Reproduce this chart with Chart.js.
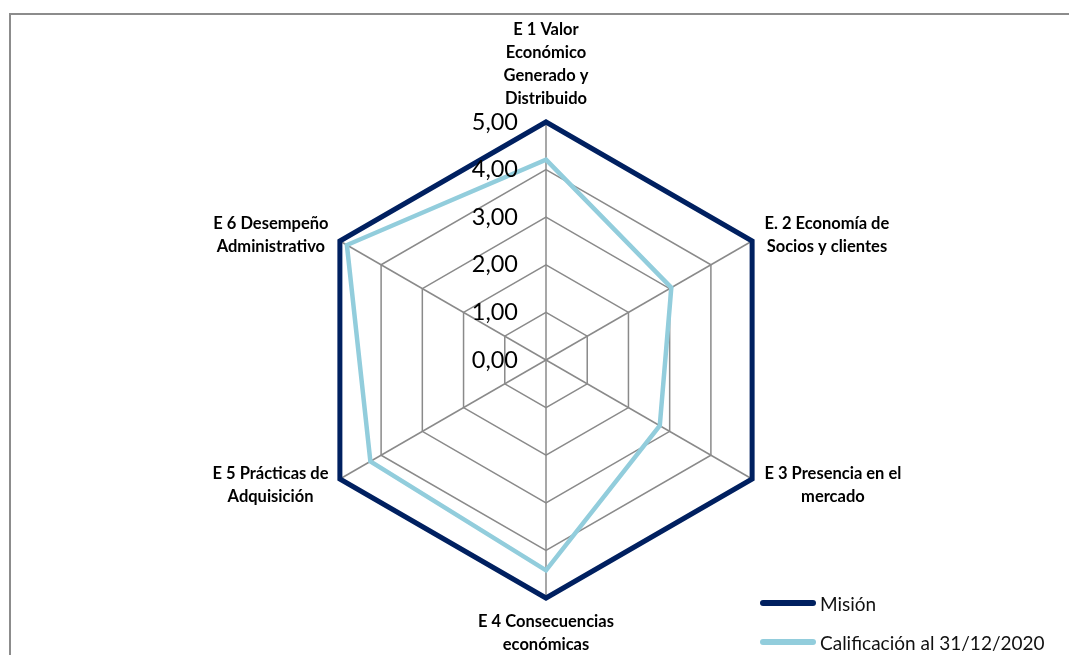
<!DOCTYPE html>
<html>
<head>
<meta charset="utf-8">
<script src="https://cdn.jsdelivr.net/npm/chart.js@4.4.0/dist/chart.umd.min.js"></script>
<style>
  html, body { margin: 0; padding: 0; background: #fff; }
  #wrap { position: relative; width: 1069px; height: 655px; overflow: hidden; }
  #frame { position: absolute; left: 9px; top: 13px; width: 1100px; height: 700px;
           border-left: 2px solid #8c8c8c; border-top: 2px solid #8c8c8c; }
  #radar { position: absolute; left: 0; top: 0; }
  #legend { position: absolute; left: 760px; top: 584px; font-family: Lato, sans-serif;
            font-size: 19px; color: #111; }
  .item { display: flex; align-items: center; height: 38.7px; }
  .swatch { width: 56px; height: 6px; border-radius: 3px; margin-right: 4px; }
</style>
</head>
<body>
<div id="wrap">
  <div id="frame"></div>
  <canvas id="radar" width="1069" height="655"></canvas>
  <div id="legend"></div>
</div>
<script>
// categories (one array of lines per axis)
const categories = [
    ['E 1 Valor', 'Económico', 'Generado y', 'Distribuido'],
    ['E. 2 Economía de', 'Socios y clientes'],
    ['E 3 Presencia en el', 'mercado'],
    ['E 4 Consecuencias', 'económicas'],
    ['E 5 Prácticas de', 'Adquisición'],
    ['E 6 Desempeño', 'Administrativo']
];
const mision = [5, 5, 5, 5, 5, 5];
const calificacion = [4.21, 3.04, 2.76, 4.42, 4.26, 4.83];
const tickLabels = ['0,00', '1,00', '2,00', '3,00', '4,00', '5,00'];

const seriesNames = ['Misión', 'Calificación al 31/12/2020'];
const seriesColors = ['#002060', '#92CDDC'];

// draws tick values left of the vertical axis and the axis captions, Excel style
const excelLabels = {
    id: 'excelLabels',
    afterDraw(chart) {
        const scale = chart.scales.r;
        const ctx = chart.ctx;
        ctx.save();
        ctx.fillStyle = '#000';
        ctx.textBaseline = 'middle';

        ctx.font = '23.5px Lato';
        ctx.textAlign = 'right';
        scale.ticks.forEach((t, i) => {
            const d = scale.getDistanceFromCenterForValue(t.value);
            ctx.fillText(tickLabels[i], scale.xCenter - 28, scale.yCenter - d);
        });

        ctx.font = 'bold 16.5px Lato';
        ctx.textAlign = 'center';
        const lineH = 23;
        chart.data.labels.forEach((lines, i) => {
            const p = scale.getPointPosition(i, scale.drawingArea + 12);
            const w = Math.max(...lines.map(l => ctx.measureText(l).width));
            const h = lines.length * lineH;
            const dx = p.x - scale.xCenter;
            let cx, top;
            if (Math.abs(dx) < 1) {
                cx = p.x;
                top = p.y < scale.yCenter ? p.y - h : p.y;
            } else if (dx > 0) {
                cx = p.x + 2 + w / 2;
                top = p.y - h / 2;
            } else {
                cx = p.x - 1 - w / 2;
                top = p.y - h / 2;
            }
            lines.forEach((l, j) => ctx.fillText(l, cx, top + lineH / 2 + j * lineH));
        });
        ctx.restore();
    }
};

const ctx = document.getElementById('radar').getContext('2d');

function draw() {
    new Chart(ctx, {
        type: 'radar',
        data: {
            labels: categories,
            datasets: [{
                label: seriesNames[0],
                data: mision,
                borderColor: seriesColors[0],
                borderWidth: 5,
                fill: false,
                pointRadius: 0
            }, {
                label: seriesNames[1],
                data: calificacion,
                borderColor: seriesColors[1],
                borderWidth: 4.5,
                fill: false,
                pointRadius: 0
            }]
        },
        options: {
            responsive: false,
            animation: false,
            devicePixelRatio: 1,
            layout: {
                padding: { left: 24, right: 0, top: 122, bottom: 57 }
            },
            elements: { line: { tension: 0, borderJoinStyle: 'miter' } },
            plugins: {
                legend: { display: false },
                tooltip: { enabled: false }
            },
            scales: {
                r: {
                    min: 0,
                    max: 5,
                    ticks: { stepSize: 1, display: false },
                    pointLabels: { display: false },
                    grid: { color: '#8a8a8a', lineWidth: 1.5 },
                    angleLines: { color: '#8a8a8a', lineWidth: 1.5 }
                }
            }
        },
        plugins: [excelLabels]
    });

    const legend = document.getElementById('legend');
    seriesNames.forEach((name, i) => {
        const item = document.createElement('div');
        item.className = 'item';
        item.innerHTML = '<div class="swatch" style="background:' + seriesColors[i] + '"></div><span>' + name + '</span>';
        legend.appendChild(item);
    });
}

Promise.all([
    document.fonts.load('23.5px Lato'),
    document.fonts.load('bold 16.5px Lato')
]).then(draw, draw);
</script>
</body>
</html>
